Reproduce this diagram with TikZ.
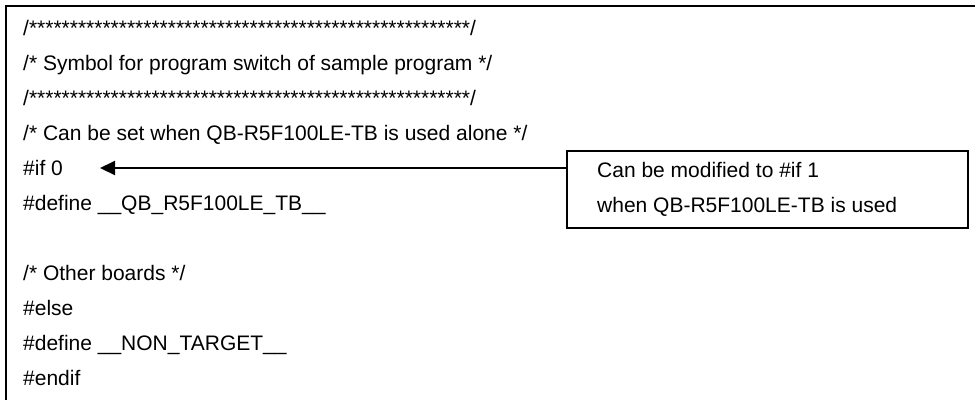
\documentclass[tikz,border=0pt]{standalone}
\usepackage{fontspec}
\setmainfont{Liberation Sans}
\usetikzlibrary{arrows.meta}
\begin{document}
\begin{tikzpicture}[x=1pt,y=-1pt,
  code/.style={anchor=base west,inner sep=0pt,font=\fontsize{21}{35}\selectfont},
  frameline/.style={line width=2pt},
  notebox/.style={draw,line width=1.6pt,minimum width=401pt,minimum height=77pt,inner sep=0pt},
  pointer/.style={line width=2pt,-{Triangle[length=15pt,width=14pt]}}]
\useasboundingbox (0,0) rectangle (975,400);
\coordinate (ftop) at (975,6);
\coordinate (fcorner) at (6,6);
\coordinate (fbot) at (6,400);
\draw[frameline] (ftop) -- (fcorner) -- (fbot);
\node[code] (l1) at (23,35.5) {/******************************************************/};
\node[code] (l2) at (23,70.5) {/* Symbol for program switch of sample program */};
\node[code] (l3) at (23,105.5) {/******************************************************/};
\node[code] (l4) at (23,140.5) {/* Can be set when QB-R5F100LE-TB is used alone */};
\node[code] (ifzero) at (23,175.5) {\#if 0};
\node[code] (l6) at (23,210.5) {\#define \_\_QB\_R5F100LE\_TB\_\_};
\node[code] (l7) at (23,280.5) {/* Other boards */};
\node[code] (l8) at (23,315.5) {\#else};
\node[code] (l9) at (23,350.5) {\#define \_\_NON\_TARGET\_\_};
\node[code] (l10) at (23,385.5) {\#endif};
\node[notebox] (box) at (767.5,189.5) {};
\node[code] (n1) at (597,177) {Can be modified to \#if 1};
\node[code] (n2) at (597,212) {when QB-R5F100LE-TB is used};
\coordinate (tip) at (100,168);
\draw[pointer] (box.west |- tip) -- (tip);
\end{tikzpicture}
\end{document}
